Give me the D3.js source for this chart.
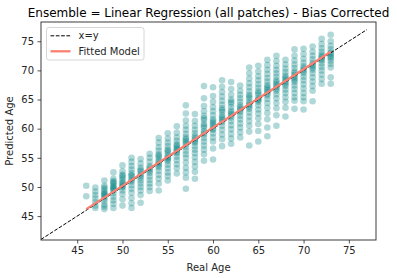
<!DOCTYPE html>
<html>
<head>
<meta charset="utf-8">
<script src="https://cdn.jsdelivr.net/npm/d3@7"></script>
<style>
  body { margin: 0; background: #fff; }
  svg { display: block; font-family: "DejaVu Sans", sans-serif; }
</style>
</head>
<body>
<svg id="chart" width="397" height="278"></svg>
<script>
// Real ages (x) and the predicted ages read for each of them.
const realAges = [46, 47, 48, 49, 50, 51, 52, 53, 54, 55, 56, 57, 58, 59,
  60, 61, 62, 63, 64, 65, 66, 67, 68, 69, 70, 71, 72, 73];

const predicted = [
  [50.2, 48.4],
  [49.9, 49.2, 48.6, 48.0, 47.4, 46.8, 46.4],
  [51.1, 50.2, 49.6, 49.2, 48.9, 48.6, 48.3, 48.0, 47.6, 47.0, 46.6, 46.2, 49.9, 48.8],
  [52.5, 51.4, 51.0, 50.6, 50.2, 49.8, 49.4, 48.9, 48.3, 47.7, 47.1, 46.4, 50.8, 50.0, 49.6],
  [53.7, 52.7, 52.1, 51.6, 51.2, 50.8, 50.3, 49.9, 49.4, 48.8, 47.9, 46.8, 50.6, 51.9, 50.1],
  [55.0, 54.3, 53.6, 53.0, 52.4, 51.9, 51.4, 50.9, 50.3, 49.7, 49.0, 48.1, 47.2, 46.4, 52.0, 51.1],
  [54.8, 54.0, 53.3, 52.7, 52.2, 51.6, 51.1, 50.6, 50.0, 49.4, 48.6, 47.3, 52.9, 51.9],
  [55.7, 55.0, 54.3, 53.6, 53.0, 52.4, 51.8, 51.2, 50.6, 50.0, 49.3, 53.3, 52.7],
  [58.4, 57.6, 56.8, 56.2, 55.6, 55.1, 54.6, 54.0, 53.4, 52.8, 52.1, 51.4, 50.6, 49.4, 55.4, 54.3, 53.7],
  [59.2, 58.3, 57.6, 57.0, 56.4, 55.9, 55.4, 54.9, 54.4, 53.8, 53.2, 52.5, 51.9, 51.1, 56.2, 55.1, 54.7],
  [60.4, 59.3, 58.5, 57.9, 57.3, 56.8, 56.3, 55.8, 55.2, 54.6, 53.9, 53.2, 52.3, 56.5, 57.1, 56.0],
  [64.0, 62.6, 61.4, 60.5, 59.8, 59.1, 58.5, 57.9, 57.3, 56.8, 56.2, 55.6, 55.0, 54.2, 53.3, 52.5, 51.6, 49.7, 58.2, 57.6],
  [62.5, 61.3, 60.5, 59.8, 59.2, 58.7, 58.1, 57.6, 57.0, 56.4, 55.8, 55.1, 54.3, 53.5, 52.6, 51.4, 58.4, 57.8],
  [67.3, 65.2, 63.9, 63.0, 62.2, 61.5, 60.8, 60.2, 59.6, 59.0, 58.4, 57.8, 57.1, 56.4, 55.6, 54.5, 60.5, 61.8, 59.3],
  [67.1, 65.6, 64.6, 63.7, 63.0, 62.3, 61.6, 61.0, 60.4, 59.8, 59.2, 58.5, 57.8, 56.6, 54.7, 61.3, 60.0, 60.7],
  [68.3, 67.2, 66.3, 65.5, 64.8, 64.1, 63.5, 62.9, 62.3, 61.7, 61.1, 60.5, 59.8, 59.0, 58.2, 57.0, 63.2, 62.0, 61.4],
  [68.0, 66.8, 65.8, 65.0, 64.3, 63.7, 63.1, 62.5, 61.9, 61.3, 60.6, 59.9, 59.1, 58.3, 57.4, 64.6, 62.8, 62.2],
  [67.4, 66.5, 65.8, 65.2, 64.6, 64.0, 63.4, 62.8, 62.2, 61.6, 60.9, 60.2, 59.4, 58.5, 63.7, 63.1],
  [70.5, 69.5, 68.6, 67.8, 67.1, 66.4, 65.8, 65.2, 64.6, 64.0, 63.4, 62.8, 62.1, 61.3, 60.5, 59.5, 57.1, 65.5, 64.3, 63.7],
  [70.8, 69.8, 69.0, 68.3, 67.6, 67.0, 66.4, 65.8, 65.2, 64.6, 64.0, 63.3, 62.6, 61.8, 60.8, 59.6, 57.8, 66.1, 65.0, 64.9],
  [71.8, 70.9, 70.1, 69.4, 68.7, 68.1, 67.5, 66.9, 66.3, 65.7, 65.1, 64.4, 63.6, 62.7, 61.6, 60.2, 58.7, 67.2, 66.0, 66.6],
  [72.5, 71.6, 70.8, 70.1, 69.5, 68.9, 68.3, 67.7, 67.1, 66.5, 65.9, 65.2, 64.4, 63.5, 62.3, 60.5, 68.0, 66.8, 67.4],
  [71.8, 71.0, 70.3, 69.7, 69.1, 68.5, 67.9, 67.3, 66.7, 66.1, 65.4, 64.6, 63.6, 62.1, 68.8, 67.6, 68.2],
  [73.6, 72.5, 71.7, 71.0, 70.4, 69.8, 69.2, 68.6, 68.0, 67.4, 66.8, 66.1, 65.4, 64.8, 63.4, 69.5, 68.3, 68.9],
  [73.7, 72.8, 72.0, 71.3, 70.7, 70.1, 69.5, 68.9, 68.3, 67.6, 66.9, 66.1, 65.4, 64.7, 63.3, 70.4, 69.8],
  [74.1, 73.2, 72.5, 71.9, 71.3, 70.7, 70.1, 69.5, 68.8, 68.1, 67.3, 66.5, 64.7, 71.0, 70.4],
  [75.4, 74.5, 73.8, 73.2, 72.7, 72.2, 71.7, 71.2, 70.6, 70.0, 69.3, 68.5, 67.7, 72.4, 71.9],
  [76.1, 75.0, 74.2, 73.6, 73.1, 72.6, 72.1, 71.6, 71.1, 70.5, 68.8, 67.7, 72.9, 72.3]
];

// Reference line x=y and fitted model end points.
const identityX = [41, 77];
const fitX = [46, 73];
const fitY = [46.2, 73.2];

const xTicks = [45, 50, 55, 60, 65, 70, 75];
const yTicks = [45, 50, 55, 60, 65, 70, 75];

const title = 'Ensemble = Linear Regression (all patches) - Bias Corrected';
const legendLabels = ['x=y', 'Fitted Model'];

const margin = { left: 41, right: 21, top: 22, bottom: 38 };
const width = 397, height = 278;
const innerW = width - margin.left - margin.right;
const innerH = height - margin.top - margin.bottom;

const svg = d3.select('#chart');
const g = svg.append('g')
  .attr('transform', `translate(${margin.left},${margin.top})`);

const x = d3.scaleLinear().domain([41, 78]).range([0, innerW]);
const y = d3.scaleLinear().domain([40.9, 78.3]).range([innerH, 0]);

// Flatten the per-age columns into points.
const points = realAges.flatMap((age, i) => predicted[i].map(v => [age, v]));

g.append('g')
  .selectAll('circle')
  .data(points)
  .join('circle')
  .attr('cx', d => x(d[0]))
  .attr('cy', d => y(d[1]))
  .attr('r', 3.3)
  .attr('fill', '#008080')
  .attr('fill-opacity', 0.31);

const line = d3.line().x(d => x(d[0])).y(d => y(d[1]));

g.append('path')
  .datum(identityX.map(v => [v, v]))
  .attr('d', line)
  .attr('fill', 'none')
  .attr('stroke', '#000')
  .attr('stroke-width', 1)
  .attr('stroke-dasharray', '3.7,1.6');

g.append('path')
  .datum(fitX.map((v, i) => [v, fitY[i]]))
  .attr('d', line)
  .attr('fill', 'none')
  .attr('stroke', '#fa8072')
  .attr('stroke-width', 2.3);

// Axes.
const xAxis = g.append('g')
  .attr('transform', `translate(0,${innerH})`)
  .call(d3.axisBottom(x).tickValues(xTicks).tickSize(3.5).tickPadding(3.5));
const yAxis = g.append('g')
  .call(d3.axisLeft(y).tickValues(yTicks).tickSize(3.5).tickPadding(3.5));

[xAxis, yAxis].forEach(a => {
  a.select('.domain').remove();
  a.selectAll('.tick line').attr('stroke', '#262626').attr('stroke-width', 0.8);
  a.selectAll('.tick text')
    .attr('fill', '#262626')
    .style('font-size', '10px')
    .style('font-family', '"DejaVu Sans", sans-serif');
});

// Frame.
g.append('rect')
  .attr('width', innerW)
  .attr('height', innerH)
  .attr('fill', 'none')
  .attr('stroke', '#262626')
  .attr('stroke-width', 0.9);

// Labels.
svg.append('text')
  .attr('x', margin.left + innerW / 2)
  .attr('y', 17)
  .attr('text-anchor', 'middle')
  .style('font-size', '12px')
  .attr('fill', '#000')
  .text(title);

svg.append('text')
  .attr('x', margin.left + innerW / 2)
  .attr('y', 271)
  .attr('text-anchor', 'middle')
  .style('font-size', '10px')
  .attr('fill', '#262626')
  .text('Real Age');

svg.append('text')
  .attr('transform', `translate(13,${margin.top + innerH / 2}) rotate(-90)`)
  .attr('text-anchor', 'middle')
  .style('font-size', '10px')
  .attr('fill', '#262626')
  .text('Predicted Age');

// Legend.
const legend = svg.append('g').attr('transform', 'translate(46.5,27.5)');
legend.append('rect')
  .attr('width', 97.5)
  .attr('height', 32.5)
  .attr('rx', 2.5)
  .attr('fill', '#fff')
  .attr('fill-opacity', 0.8)
  .attr('stroke', '#ccc')
  .attr('stroke-width', 0.8);

const legendStyles = [
  { stroke: '#000', width: 1, dash: '3.7,1.6' },
  { stroke: '#fa8072', width: 2.3, dash: null }
];

legendLabels.forEach((label, i) => {
  const yy = 8.3 + i * 15.5;
  legend.append('line')
    .attr('x1', 4).attr('x2', 24)
    .attr('y1', yy).attr('y2', yy)
    .attr('stroke', legendStyles[i].stroke)
    .attr('stroke-width', legendStyles[i].width)
    .attr('stroke-dasharray', legendStyles[i].dash);
  legend.append('text')
    .attr('x', 32)
    .attr('y', yy + 3.6)
    .style('font-size', '10px')
    .attr('fill', '#262626')
    .text(label);
});
</script>
</body>
</html>
